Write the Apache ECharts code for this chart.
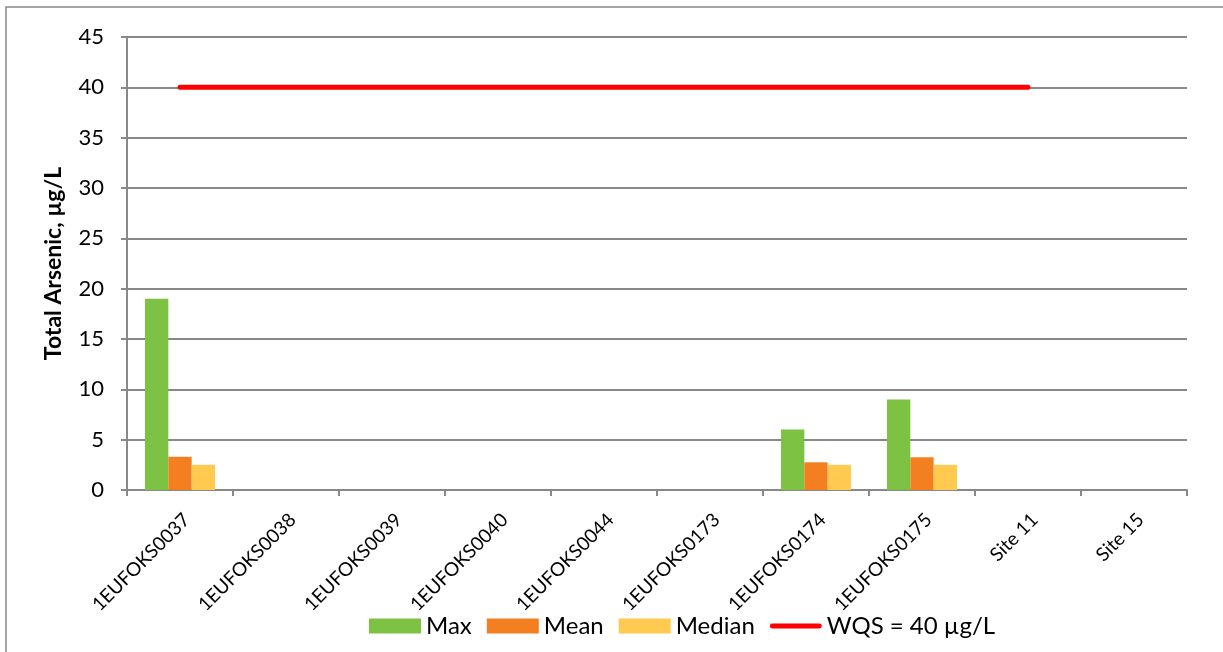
<!DOCTYPE html>
<html>
<head>
<meta charset="utf-8">
<script src="https://cdn.jsdelivr.net/npm/echarts@6/dist/echarts.min.js"></script>
<style>
  html, body { margin: 0; padding: 0; background: #fff; }
  #chart { width: 1223px; height: 652px; }
</style>
</head>
<body>
<div id="chart"></div>
<script>
// sites on the x axis
const sites = ['1EUFOKS0037', '1EUFOKS0038', '1EUFOKS0039', '1EUFOKS0040', '1EUFOKS0044',
  '1EUFOKS0173', '1EUFOKS0174', '1EUFOKS0175', 'Site 11', 'Site 15'];

// arsenic values, µg/L (null = no data)
const maxVals    = [19,  null, null, null, null, null, 6,    9,    null, null];
const meanVals   = [3.3, null, null, null, null, null, 2.75, 3.25, null, null];
const medianVals = [2.5, null, null, null, null, null, 2.5,  2.5,  null, null];
const wqsVals    = [40, 40, 40, 40, 40, 40, 40, 40, 40, null];

const FONT = 'Lato, "Open Sans", sans-serif';
const GRAY = '#888888';

const chart = echarts.init(document.getElementById('chart'));
chart.setOption({
    animation: false,
    backgroundColor: '#fff',
    textStyle: {fontFamily: FONT, color: '#000'},
    graphic: [{
        type: 'rect',
        shape: {x: 6, y: 7, width: 1240, height: 700},
        style: {fill: 'none', stroke: GRAY, lineWidth: 1.5},
        silent: true
    }],
    grid: {left: 127, right: 36, top: 37, bottom: 162},
    legend: {
        bottom: 9,
        left: 364,
        itemWidth: 52,
        itemHeight: 15,
        itemGap: 15,
        textStyle: {fontSize: 24, fontFamily: FONT, color: '#000'},
        data: [
            {name: 'Max', icon: 'rect'},
            {name: 'Mean', icon: 'rect'},
            {name: 'Median', icon: 'rect'},
            {name: 'WQS = 40 µg/L', icon: 'path://M2.5,0 L52,0 A2.5,2.5 0 0 1 52,5 L2.5,5 A2.5,2.5 0 0 1 2.5,0 Z'}
        ]
    },
    xAxis: {
        type: 'category',
        data: sites,
        axisLine: {lineStyle: {color: GRAY, width: 2}},
        axisTick: {show: true, length: 6, lineStyle: {color: GRAY, width: 2}},
        axisLabel: {rotate: 45, fontSize: 19, color: '#000', margin: 20,
            align: 'right', verticalAlign: 'top', fontFamily: FONT}
    },
    yAxis: {
        type: 'value',
        min: 0,
        max: 45,
        interval: 5,
        name: 'Total Arsenic, µg/L',
        nameLocation: 'middle',
        nameGap: 62,
        nameTextStyle: {fontSize: 23, fontWeight: 'bold', color: '#000', fontFamily: FONT},
        axisLine: {show: true, lineStyle: {color: GRAY, width: 2}},
        axisTick: {show: true, length: 6, lineStyle: {color: GRAY, width: 2}},
        axisLabel: {fontSize: 22, color: '#000', margin: 23, fontFamily: FONT},
        splitLine: {lineStyle: {color: GRAY, width: 2}}
    },
    series: [
        {name: 'Max', type: 'bar', data: maxVals, barGap: '0%', barCategoryGap: '34%',
            itemStyle: {color: '#7dc242'}},
        {name: 'Mean', type: 'bar', data: meanVals,
            itemStyle: {color: '#f47f20'}},
        {name: 'Median', type: 'bar', data: medianVals,
            itemStyle: {color: '#ffca4f'}},
        {name: 'WQS = 40 µg/L', type: 'line', data: wqsVals, symbol: 'none',
            lineStyle: {color: '#ff0000', width: 5, cap: 'round'},
            itemStyle: {color: '#ff0000'}}
    ]
});
</script>
</body>
</html>
